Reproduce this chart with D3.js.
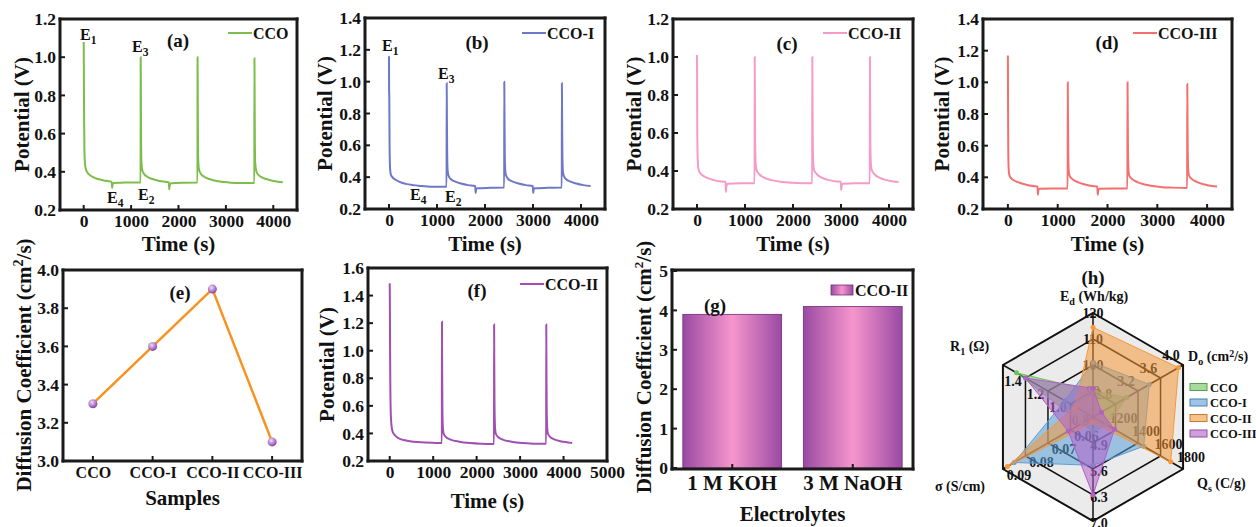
<!DOCTYPE html>
<html>
<head>
<meta charset="utf-8">
<script src="https://cdnjs.cloudflare.com/ajax/libs/d3/7.8.5/d3.min.js"></script>
<style>
body { margin: 0; background: #fff; }
</style>
</head>
<body>
<svg width="1256" height="527" font-family="Liberation Serif, Times New Roman, serif" font-weight="bold"></svg>
<script>
// ---- data ----
// GCD curves, [time (s), potential (V)]
var gcdCCO = [[0,1.08],[3,0.95],[8,0.7],[15,0.52],[25,0.45],[40,0.42],[70,0.4],[120,0.385],[200,0.372],[300,0.362],[420,0.355],[540,0.35],[590,0.348],[600,0.315],[612,0.335],[630,0.342],[800,0.343],[1000,0.344],[1195,0.344],
    [1200,0.344],[1202,1.0],[1205,0.9],[1210,0.6],[1218,0.45],[1235,0.41],[1270,0.39],[1350,0.373],[1450,0.362],[1600,0.352],[1750,0.347],[1795,0.345],[1805,0.308],[1815,0.33],[1840,0.34],[2100,0.343],[2395,0.344],
    [2400,0.344],[2402,1.0],[2405,0.88],[2410,0.6],[2418,0.45],[2435,0.41],[2470,0.39],[2550,0.373],[2650,0.362],[2800,0.352],[2950,0.346],[3100,0.343],[3300,0.342],[3595,0.342],
    [3600,0.342],[3602,0.995],[3605,0.87],[3610,0.6],[3618,0.45],[3635,0.41],[3670,0.388],[3750,0.372],[3850,0.362],[4000,0.352],[4100,0.348],[4200,0.345]];
var gcdCCO1 = [[0,1.16],[2,0.95],[6,0.9],[12,0.6],[20,0.47],[35,0.42],[70,0.4],[130,0.385],[220,0.37],[350,0.358],[500,0.35],[650,0.345],[900,0.34],[1195,0.34],
    [1200,0.34],[1202,0.99],[1205,0.85],[1212,0.55],[1222,0.44],[1240,0.41],[1280,0.39],[1380,0.372],[1500,0.36],[1650,0.35],[1795,0.345],[1805,0.3],[1815,0.325],[1840,0.33],[2100,0.333],[2395,0.335],
    [2400,0.335],[2402,1.0],[2405,0.85],[2412,0.55],[2422,0.44],[2440,0.41],[2480,0.39],[2580,0.372],[2700,0.36],[2850,0.35],[2995,0.345],[3005,0.3],[3015,0.325],[3040,0.33],[3300,0.333],[3595,0.335],
    [3600,0.335],[3602,0.99],[3605,0.85],[3612,0.55],[3622,0.44],[3640,0.41],[3680,0.39],[3780,0.372],[3900,0.36],[4050,0.35],[4200,0.345]];
var gcdCCO2 = [[0,1.01],[2,0.9],[5,0.65],[12,0.48],[25,0.42],[50,0.395],[100,0.38],[200,0.365],[350,0.352],[500,0.345],[595,0.343],[602,0.29],[612,0.32],[640,0.333],[900,0.335],[1195,0.335],
    [1200,0.335],[1202,1.0],[1206,0.8],[1212,0.55],[1222,0.44],[1240,0.405],[1290,0.385],[1400,0.365],[1550,0.352],[1750,0.343],[2000,0.338],[2200,0.336],[2395,0.335],
    [2400,0.335],[2402,1.0],[2406,0.8],[2412,0.55],[2422,0.44],[2440,0.405],[2490,0.385],[2600,0.365],[2750,0.352],[2900,0.345],[2995,0.343],[3005,0.3],[3015,0.325],[3040,0.333],[3300,0.335],[3595,0.335],
    [3600,0.335],[3602,1.0],[3606,0.8],[3612,0.55],[3622,0.44],[3640,0.405],[3690,0.385],[3800,0.365],[3950,0.352],[4100,0.345],[4200,0.342]];
var gcdCCO3 = [[0,1.17],[2,0.95],[5,0.7],[12,0.48],[25,0.42],[50,0.4],[100,0.385],[200,0.37],[350,0.355],[500,0.345],[595,0.342],[602,0.29],[612,0.32],[640,0.328],[900,0.33],[1195,0.33],
    [1200,0.33],[1202,1.0],[1206,0.8],[1212,0.55],[1222,0.44],[1240,0.41],[1290,0.39],[1400,0.37],[1550,0.355],[1700,0.345],[1795,0.342],[1805,0.29],[1815,0.32],[1840,0.328],[2100,0.33],[2395,0.33],
    [2400,0.33],[2402,1.0],[2406,0.8],[2412,0.55],[2422,0.44],[2440,0.41],[2490,0.39],[2600,0.37],[2750,0.355],[2900,0.345],[3100,0.338],[3300,0.335],[3595,0.333],
    [3600,0.333],[3602,0.99],[3606,0.8],[3612,0.55],[3622,0.44],[3640,0.41],[3690,0.39],[3800,0.37],[3950,0.355],[4100,0.345],[4200,0.342]];
var gcdNaOH = [[0,1.49],[3,1.36],[8,1.0],[15,0.7],[30,0.5],[60,0.42],[110,0.39],[200,0.365],[350,0.35],[550,0.34],[800,0.335],[1000,0.332],[1195,0.33],
    [1200,0.33],[1202,1.21],[1206,0.9],[1212,0.6],[1222,0.45],[1240,0.4],[1290,0.375],[1400,0.355],[1600,0.34],[1850,0.33],[2100,0.325],[2395,0.323],
    [2400,0.323],[2402,1.19],[2406,0.9],[2412,0.6],[2422,0.45],[2440,0.4],[2490,0.375],[2600,0.355],[2800,0.34],[3050,0.33],[3300,0.326],[3595,0.325],
    [3600,0.325],[3602,1.19],[3606,0.9],[3612,0.6],[3622,0.45],[3640,0.4],[3690,0.375],[3800,0.355],[3950,0.342],[4100,0.335],[4200,0.33]];

// diffusion coefficient vs sample
var samples = ['CCO', 'CCO-I', 'CCO-II', 'CCO-III'];
var diffValues = [3.3, 3.6, 3.9, 3.1];

// diffusion coefficient vs electrolyte
var electrolytes = ['1 M KOH', '3 M NaOH'];
var electroValues = [3.9, 4.1];

// radar chart: Ed, Do, Qs, (bottom axis), sigma, R1
var radarMin = [80, 2.4, 1000, 4.2, 0.05, 0.6];
var radarMax = [120, 4.0, 1800, 7.0, 0.09, 1.4];
var radarTicks = [[90, 100, 110, 120], [2.8, 3.2, 3.6, 4.0], [1200, 1400, 1600, 1800],
    [4.9, 5.6, 6.3, 7.0], [0.06, 0.07, 0.08, 0.09], [0.8, 1.0, 1.2, 1.4]];
var radarNames = ['CCO', 'CCO-I', 'CCO-II', 'CCO-III'];
var radarCCO = [90, 3.0, 1120, 4.6, 0.055, 1.28];
var radarCCO1 = [101, 3.4, 1450, 5.5, 0.085, 0.85];
var radarCCO2 = [114.5, 3.92, 1690, 4.35, 0.088, 0.76];
var radarCCO3 = [91, 2.55, 1190, 6.3, 0.061, 1.2];

var ink = '#111';
var svg = d3.select('svg');
var boxes = [];      // frames, drawn at the end in their own layer
var tickMarks = [];  // inward tick marks, drawn with the frames

// gradients: bar fill and sphere marker
var defs = svg.append('defs');
var barGrad = defs.append('linearGradient').attr('id', 'barGrad');
barGrad.append('stop').attr('offset', '0%').attr('stop-color', '#9a4aa3');
barGrad.append('stop').attr('offset', '50%').attr('stop-color', '#f795cd');
barGrad.append('stop').attr('offset', '100%').attr('stop-color', '#9a4aa3');
var ballGrad = defs.append('radialGradient').attr('id', 'ballGrad')
    .attr('cx', '40%').attr('cy', '35%').attr('r', '65%');
ballGrad.append('stop').attr('offset', '0%').attr('stop-color', '#f1dcf7');
ballGrad.append('stop').attr('offset', '100%').attr('stop-color', '#8b3fa9');

function styleAxis(g, size) {
    g.attr('font-family', null).attr('font-size', size);
    g.select('.domain').remove();
    g.selectAll('.tick line').remove();
    g.selectAll('.tick text').attr('fill', ink);
}

// remember tick positions from a scale, along the bottom or left edge of a box
function addTicks(b, scale, values, side) {
    values.forEach(function(v) {
        var p = scale(v) + (scale.bandwidth ? scale.bandwidth() / 2 : 0);
        if (side === 'bottom') tickMarks.push([p, b.b, p, b.b - 5]);
        else tickMarks.push([b.l, p, b.l + 5, p]);
    });
}

function addText(x, y, size, str) {
    return svg.append('text').attr('x', x).attr('y', y)
        .attr('font-size', size).attr('fill', ink).text(str);
}

function yTitle(x, y, parts) {
    var t = svg.append('text')
        .attr('transform', 'translate(' + [x, y] + ') rotate(-90)')
        .attr('text-anchor', 'middle')
        .attr('font-size', 21).attr('fill', ink);
    parts(t);
}

function subText(x, y, main, sub, size) {
    var t = addText(x, y, size, null);
    t.append('tspan').text(main);
    t.append('tspan').attr('dy', 4).attr('font-size', size * 0.72).text(sub);
    return t;
}

// ---- GCD panels ----
function drawGCD(c) {
    var b = c.box;
    var x = d3.scaleLinear().domain(c.xDomain).range([b.l, b.r]);
    var y = d3.scaleLinear().domain(c.yDomain).range([b.b, b.t]);

    var xAxisG = svg.append('g')
        .attr('transform', 'translate(' + [0, b.b] + ')')
        .call(d3.axisBottom(x).tickValues(c.xTicks).tickSize(0).tickPadding(5).tickFormat(d3.format('d')));
    styleAxis(xAxisG, 17.5);
    var yAxisG = svg.append('g')
        .attr('transform', 'translate(' + [b.l, 0] + ')')
        .call(d3.axisLeft(y).tickValues(c.yTicks).tickSize(0).tickPadding(4).tickFormat(d3.format('.1f')));
    styleAxis(yAxisG, 17.5);
    addTicks(b, x, c.xTicks, 'bottom');
    addTicks(b, y, c.yTicks, 'left');

    var line = d3.line()
        .x(function(d) { return x(d[0]); })
        .y(function(d) { return y(d[1]); })
        .curve(d3.curveMonotoneX);
    svg.append('path')
        .datum(c.data)
        .attr('d', line)
        .attr('fill', 'none')
        .attr('stroke', c.color)
        .attr('stroke-width', 2);

    boxes.push(b);

    // legend
    svg.append('line')
        .attr('x1', c.legend[0]).attr('x2', c.legend[0] + 24)
        .attr('y1', c.legend[1]).attr('y2', c.legend[1])
        .attr('stroke', c.color).attr('stroke-width', 2);
    addText(c.legend[0] + 25, c.legend[1] + 6, 16, c.name);

    addText(c.label[0], c.label[1] + 7, 19, c.tag).attr('text-anchor', 'middle');
    addText((b.l + b.r) / 2, c.timeY, 21, 'Time (s)').attr('text-anchor', 'middle');

    yTitle(c.titleX, (b.t + b.b) / 2, function(t) {
        t.attr('dy', '0.35em').text('Potential (V)');
    });
}

var ticks5 = [0, 1000, 2000, 3000, 4000];

drawGCD({box: {l: 60, r: 297, t: 19, b: 210}, xDomain: [-500, 4500], yDomain: [0.2, 1.2],
    xTicks: ticks5, yTicks: [0.2, 0.4, 0.6, 0.8, 1.0, 1.2], data: gcdCCO, color: '#7cbd4b',
    name: 'CCO', tag: '(a)', legend: [228, 33], label: [178, 40], titleX: 22, timeY: 251});
drawGCD({box: {l: 365, r: 605, t: 18, b: 209}, xDomain: [-500, 4500], yDomain: [0.2, 1.4],
    xTicks: ticks5, yTicks: [0.2, 0.4, 0.6, 0.8, 1.0, 1.2, 1.4], data: gcdCCO1, color: '#6f78c6',
    name: 'CCO-I', tag: '(b)', legend: [522, 33], label: [477, 42], titleX: 325, timeY: 251});
drawGCD({box: {l: 673, r: 913, t: 19, b: 209}, xDomain: [-500, 4500], yDomain: [0.2, 1.2],
    xTicks: ticks5, yTicks: [0.2, 0.4, 0.6, 0.8, 1.0, 1.2], data: gcdCCO2, color: '#f59ac9',
    name: 'CCO-II', tag: '(c)', legend: [823, 33], label: [787, 43], titleX: 634, timeY: 251});
drawGCD({box: {l: 983, r: 1232, t: 19, b: 209}, xDomain: [-500, 4500], yDomain: [0.2, 1.4],
    xTicks: ticks5, yTicks: [0.2, 0.4, 0.6, 0.8, 1.0, 1.2, 1.4], data: gcdCCO3, color: '#f3706e',
    name: 'CCO-III', tag: '(d)', legend: [1133, 33], label: [1107, 42], titleX: 942, timeY: 251});
drawGCD({box: {l: 368, r: 607, t: 268, b: 461}, xDomain: [-500, 5000], yDomain: [0.2, 1.6],
    xTicks: [0, 1000, 2000, 3000, 4000, 5000], yTicks: [0.2, 0.4, 0.6, 0.8, 1.0, 1.2, 1.4, 1.6], data: gcdNaOH, color: '#a24fb4',
    name: 'CCO-II', tag: '(f)', legend: [520, 284], label: [477, 290], titleX: 327, timeY: 508});

// E labels on (a) and (b)
subText(80, 40, 'E', '1', 16); subText(132, 52, 'E', '3', 16);
subText(107, 203, 'E', '4', 16); subText(138, 200, 'E', '2', 16);
subText(382, 51, 'E', '1', 16); subText(438, 79, 'E', '3', 16);
subText(410, 200, 'E', '4', 16); subText(445, 202, 'E', '2', 16);

// ---- (e) diffusion coefficient vs samples ----
var boxE = {l: 63, r: 302, t: 270, b: 461};
var xE = d3.scalePoint().domain(samples).range([boxE.l, boxE.r]).padding(0.5);
var yE = d3.scaleLinear().domain([3.0, 4.0]).range([boxE.b, boxE.t]);
var yETicks = [3.0, 3.2, 3.4, 3.6, 3.8, 4.0];
var xEAxis = svg.append('g').attr('transform', 'translate(' + [0, boxE.b] + ')')
    .call(d3.axisBottom(xE).tickSize(0).tickPadding(6));
styleAxis(xEAxis, 16);
var yEAxis = svg.append('g').attr('transform', 'translate(' + [boxE.l, 0] + ')')
    .call(d3.axisLeft(yE).tickValues(yETicks).tickSize(0).tickPadding(4).tickFormat(d3.format('.1f')));
styleAxis(yEAxis, 17.5);
addTicks(boxE, xE, samples, 'bottom');
addTicks(boxE, yE, yETicks, 'left');
svg.append('path')
    .datum(diffValues)
    .attr('d', d3.line().x(function(d, i) { return xE(samples[i]); }).y(function(d) { return yE(d); }))
    .attr('fill', 'none').attr('stroke', '#f7931e').attr('stroke-width', 2.5);
svg.selectAll('.ball').data(diffValues).enter().append('circle')
    .attr('class', 'ball')
    .attr('cx', function(d, i) { return xE(samples[i]); })
    .attr('cy', function(d) { return yE(d); })
    .attr('r', 4.5).attr('fill', 'url(#ballGrad)');
boxes.push(boxE);
addText(180, 299, 19, '(e)').attr('text-anchor', 'middle');
addText((boxE.l + boxE.r) / 2, 505, 21, 'Samples').attr('text-anchor', 'middle');
yTitle(24, 365, function(t) {
    t.attr('dy', '0.35em');
    t.append('tspan').text('Diffusion Coefficient (cm');
    t.append('tspan').attr('dy', -8).attr('font-size', 14).text('2');
    t.append('tspan').attr('dy', 8).text('/s)');
});

// ---- (g) diffusion coefficient vs electrolyte ----
var boxG = {l: 672, r: 913, t: 270, b: 469};
var xG = d3.scaleBand().domain(electrolytes).range([boxG.l, boxG.r]).paddingInner(0.18).paddingOuter(0.09);
var yG = d3.scaleLinear().domain([0, 5]).range([468, 271]);
svg.selectAll('.bar').data(electroValues).enter().append('rect')
    .attr('class', 'bar')
    .attr('x', function(d, i) { return xG(electrolytes[i]); })
    .attr('width', xG.bandwidth())
    .attr('y', function(d) { return yG(d); })
    .attr('height', function(d) { return yG(0) - yG(d); })
    .attr('fill', 'url(#barGrad)').attr('stroke', '#6d2f78').attr('stroke-width', 0.8);
var xGAxis = svg.append('g').attr('transform', 'translate(' + [0, boxG.b] + ')')
    .call(d3.axisBottom(xG).tickSize(0).tickPadding(6));
styleAxis(xGAxis, 21);
var yGAxis = svg.append('g').attr('transform', 'translate(' + [boxG.l, 0] + ')')
    .call(d3.axisLeft(yG).ticks(5).tickSize(0).tickPadding(4).tickFormat(d3.format('d')));
styleAxis(yGAxis, 17.5);
addTicks(boxG, xG, electrolytes, 'bottom');
addTicks(boxG, yG, yG.ticks(5), 'left');
boxes.push(boxG);
svg.append('rect').attr('x', 831).attr('y', 285).attr('width', 22).attr('height', 10)
    .attr('fill', 'url(#barGrad)').attr('stroke', '#6d2f78').attr('stroke-width', 0.8);
addText(855, 296, 16, 'CCO-II');
addText(715, 312, 19, '(g)').attr('text-anchor', 'middle');
addText((boxG.l + boxG.r) / 2, 521, 21, 'Electrolytes').attr('text-anchor', 'middle');
yTitle(644, 367, function(t) {
    t.attr('dy', '0.35em');
    t.append('tspan').text('Diffusion Coefficient (cm');
    t.append('tspan').attr('dy', -8).attr('font-size', 13).text('2');
    t.append('tspan').attr('dy', 8).text('/s)');
});

// ---- (h) radar chart ----
var cx = 1093, cy = 417, R = 104;
var radarG = svg.append('g').attr('transform', 'translate(' + [cx, cy] + ')');
var angles = d3.range(6).map(function(i) { return (-90 + 60 * i) * Math.PI / 180; });
var rScales = radarMin.map(function(m, i) {
    return d3.scaleLinear().domain([m, radarMax[i]]).range([0, R]);
});
function pt(i, r) { return [r * Math.cos(angles[i]), r * Math.sin(angles[i])]; }
var hexLine = d3.line().curve(d3.curveLinearClosed);

radarG.append('path').attr('d', hexLine(d3.range(6).map(function(i) { return pt(i, R); })))
    .attr('fill', '#ebebeb');
[1, 2, 3, 4].forEach(function(k) {
    radarG.append('path').attr('d', hexLine(d3.range(6).map(function(i) { return pt(i, R * k / 4); })))
        .attr('fill', 'none').attr('stroke', ink).attr('stroke-width', k === 4 ? 2 : 1.5);
});
angles.forEach(function(a, i) {
    var p = pt(i, R);
    radarG.append('line').attr('x1', 0).attr('y1', 0).attr('x2', p[0]).attr('y2', p[1])
        .attr('stroke', ink).attr('stroke-width', 1.5);
});

// tick labels sit under the filled polygons
var labelOffset = [[0, 0], [-12, -10], [8, -12], [6, 2], [16, 6], [10, 16]];
var labelFmt = [d3.format('d'), d3.format('.1f'), d3.format('d'), d3.format('.1f'), d3.format('.2f'), d3.format('.1f')];
radarTicks.forEach(function(tk, i) {
    tk.forEach(function(v) {
        var p = pt(i, rScales[i](v));
        radarG.append('text')
            .attr('x', p[0] + labelOffset[i][0]).attr('y', p[1] + labelOffset[i][1])
            .attr('text-anchor', 'middle').attr('dy', '0.35em')
            .attr('font-size', 14).attr('fill', ink).text(labelFmt[i](v));
    });
});

var radarData = [radarCCO, radarCCO1, radarCCO2, radarCCO3];
var radarColors = ['#6cc35e', '#5a9fd8', '#f5993a', '#b160c8'];
radarData.forEach(function(vals, s) {
    var pts = vals.map(function(v, i) { return pt(i, rScales[i](v)); });
    radarG.append('path').attr('d', hexLine(pts))
        .attr('fill', radarColors[s]).attr('fill-opacity', 0.55)
        .attr('stroke', radarColors[s]).attr('stroke-width', 1);
    radarG.selectAll('.dot' + s).data(pts).enter().append('circle')
        .attr('cx', function(d) { return d[0]; }).attr('cy', function(d) { return d[1]; })
        .attr('r', 2.5).attr('fill', radarColors[s]);
});

// radar axis titles
addText(1093, 284, 19, '(h)').attr('text-anchor', 'middle');
subText(1060, 301, 'E', 'd', 14).append('tspan').attr('dy', -4).text(' (Wh/kg)');
var doT = subText(1188, 361, 'D', 'o', 14);
doT.append('tspan').attr('dy', -4).text(' (cm');
doT.append('tspan').attr('dy', -4).attr('font-size', 10).text('2');
doT.append('tspan').attr('dy', 4).text('/s)');
subText(1197, 488, 'Q', 's', 14).append('tspan').attr('dy', -4).text(' (C/g)');
addText(935, 491, 14, 'σ (S/cm)');
subText(950, 351, 'R', '1', 14).append('tspan').attr('dy', -4).text(' (Ω)');

// radar legend
radarNames.forEach(function(n, s) {
    var ly = 387 + s * 15.5;
    svg.append('rect').attr('x', 1190).attr('y', ly - 3.5).attr('width', 17).attr('height', 7)
        .attr('fill', radarColors[s]).attr('fill-opacity', 0.6)
        .attr('stroke', d3.color(radarColors[s]).darker(0.6)).attr('stroke-width', 1);
    addText(1210, ly + 4.5, 12.5, n);
});

// ---- frames and tick marks, one layer on top ----
var frameG = svg.append('g').attr('class', 'frames').attr('transform', 'translate(0,0)');
boxes.forEach(function(b) {
    [[b.l, b.t, b.r, b.t], [b.r, b.t, b.r, b.b], [b.r, b.b, b.l, b.b], [b.l, b.b, b.l, b.t]].forEach(function(s) {
        frameG.append('line')
            .attr('x1', s[0]).attr('y1', s[1]).attr('x2', s[2]).attr('y2', s[3])
            .attr('stroke', '#1a1a1a').attr('stroke-width', 3).attr('stroke-linecap', 'square');
    });
});
tickMarks.forEach(function(s) {
    frameG.append('line')
        .attr('x1', s[0]).attr('y1', s[1]).attr('x2', s[2]).attr('y2', s[3])
        .attr('stroke', '#1a1a1a').attr('stroke-width', 2);
});
</script>
</body>
</html>
